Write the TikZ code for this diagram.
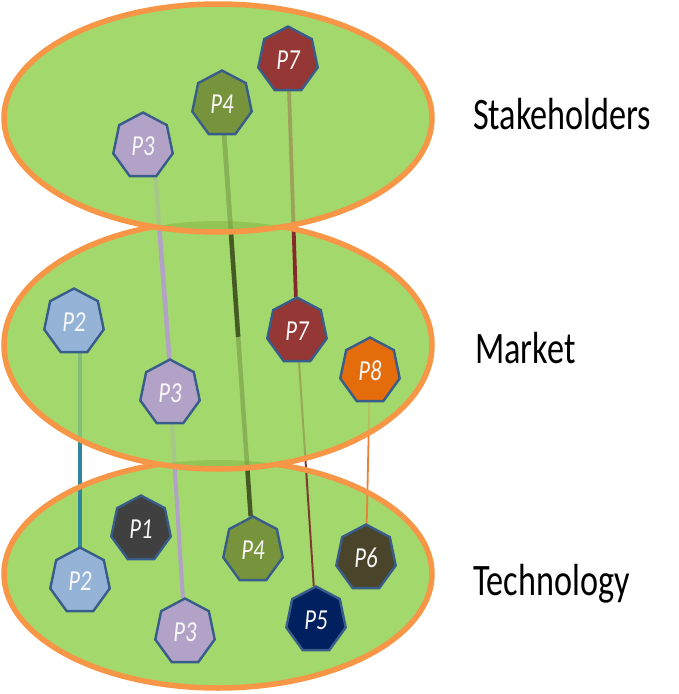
\documentclass[tikz,border=0pt]{standalone}
\usepackage{fontspec}
\setmainfont{Carlito}
\usetikzlibrary{shapes.geometric,calc}
\definecolor{egreen}{RGB}{163,216,108}
\definecolor{eorange}{RGB}{247,150,70}
\definecolor{lensc}{RGB}{115,160,45}
\definecolor{hbord}{RGB}{56,93,138}
\definecolor{cP1}{RGB}{64,64,64}
\definecolor{cP2}{RGB}{149,179,215}
\definecolor{cP3}{RGB}{179,162,199}
\definecolor{cP4}{RGB}{119,147,60}
\definecolor{cP5}{RGB}{0,32,96}
\definecolor{cP6}{RGB}{74,69,42}
\definecolor{cP7}{RGB}{149,55,53}
\definecolor{cP8}{RGB}{228,108,10}
\definecolor{lP2}{RGB}{49,133,156}
\definecolor{lP3}{RGB}{179,162,199}
\definecolor{lP4}{RGB}{70,90,35}
\definecolor{lP7}{RGB}{135,40,45}
\definecolor{lP5}{RGB}{125,60,45}
\definecolor{lP8}{RGB}{235,130,55}
\newcommand{\heptlab}[1]{{\fontsize{29}{33}\selectfont\itshape\scalebox{0.86}[1]{#1}}}
\newcommand{\layerlab}[1]{\scalebox{0.76}[1]{#1}}
\pgfdeclarelayer{lzero}
\pgfdeclarelayer{lone}
\pgfdeclarelayer{ltwo}
\pgfdeclarelayer{lthree}
\pgfdeclarelayer{lfour}
\pgfsetlayers{lzero,lone,ltwo,lthree,lfour,main}
\tikzset{
  hept/.style={regular polygon, regular polygon sides=7, minimum size=67pt,
    inner sep=0pt, xscale=0.91, draw=hbord, line width=2.4pt, text=white!94!gray},
  layerlabel/.style={anchor=base west, inner sep=0pt, text=black,
    font=\fontsize{45}{54}\selectfont},
  thickconn/.style={line width=4.5pt},
  thinconn/.style={line width=2pt},
  ellfill/.style={fill=egreen},
  ellveil/.style={fill=egreen, fill opacity=0.7},
  ellline/.style={draw=eorange, line width=5.5pt},
  lensfill/.style={fill=lensc, fill opacity=0.35},
}
\begin{document}
\begin{tikzpicture}[x=1pt,y=-1pt]
\useasboundingbox (0,0) rectangle (678,694);
% heptagon nodes
\node[hept, fill=cP3] (t3) at (143,146) {\heptlab{P3}};
\node[hept, fill=cP4] (t4) at (222,104) {\heptlab{P4}};
\node[hept, fill=cP7] (t7) at (288,60) {\heptlab{P7}};
\node[hept, fill=cP2] (m2) at (74,322) {\heptlab{P2}};
\node[hept, fill=cP3] (m3) at (170,393) {\heptlab{P3}};
\node[hept, fill=cP7] (m7) at (297,331) {\heptlab{P7}};
\node[hept, fill=cP8] (m8) at (370,371) {\heptlab{P8}};
\node[hept, fill=cP1] (b1) at (141,529) {\heptlab{P1}};
\node[hept, fill=cP2] (b2) at (80,581) {\heptlab{P2}};
\node[hept, fill=cP3] (b3) at (185,632) {\heptlab{P3}};
\node[hept, fill=cP4] (b4) at (253,550) {\heptlab{P4}};
\node[hept, fill=cP5] (b5) at (316,620) {\heptlab{P5}};
\node[hept, fill=cP6] (b6) at (366,558) {\heptlab{P6}};
% layer labels
\node[layerlabel] (lst) at (473,129) {\layerlab{Stakeholders}};
\node[layerlabel] (lmk) at (475,363) {\layerlab{Market}};
\node[layerlabel] (ltc) at (473,595) {\layerlab{Technology}};
\coordinate (p4mid) at ($(t4)!0.522!(b4)$);
% ellipse fills
\begin{pgfonlayer}{lzero}
  \path[ellfill] (218,574) ellipse [x radius=214pt, y radius=114pt];
  \path[ellfill] (218,345) ellipse [x radius=214pt, y radius=124pt];
  \path[ellfill] (218,118) ellipse [x radius=214pt, y radius=114pt];
\end{pgfonlayer}
% connectors from the market layer down
\begin{pgfonlayer}{lone}
  \draw[thickconn, lP2] ([xshift=6pt]m2.center) -- (b2.center);
  \draw[line width=4pt, lP3] (m3) -- (b3);
  \draw[thickconn, lP4] (t4) -- (b4);
  \draw[thinconn, lP5] (m7) -- (b5);
  \draw[line width=1.8pt, lP8] (m8) -- (b6);
\end{pgfonlayer}
\begin{pgfonlayer}{ltwo}
  \path[ellveil] (218,345) ellipse [x radius=214pt, y radius=124pt];
\end{pgfonlayer}
% connectors from the stakeholder layer down
\begin{pgfonlayer}{lthree}
  \draw[thickconn, lP3] ([xshift=10pt]t3.center) -- ([xshift=2pt]m3.center);
  \draw[thickconn, lP4] (t4) -- (p4mid);
  \draw[line width=3.8pt, lP7] (t7) -- (m7);
\end{pgfonlayer}
\begin{pgfonlayer}{lfour}
  \path[ellveil] (218,118) ellipse [x radius=214pt, y radius=114pt];
  \begin{scope}
    \clip (218,118) ellipse [x radius=214pt, y radius=114pt];
    \path[lensfill] (218,345) ellipse [x radius=214pt, y radius=124pt];
  \end{scope}
  \begin{scope}
    \clip (218,345) ellipse [x radius=214pt, y radius=124pt];
    \path[lensfill] (218,574) ellipse [x radius=214pt, y radius=114pt];
  \end{scope}
  \begin{scope}
    \clip (-10,464.3) rectangle (700,720);
    \path[ellline] (218,574) ellipse [x radius=214pt, y radius=114pt];
  \end{scope}
  \begin{scope}
    \clip (-10,226.7) rectangle (700,720);
    \path[ellline] (218,345) ellipse [x radius=214pt, y radius=124pt];
  \end{scope}
  \path[ellline] (218,118) ellipse [x radius=214pt, y radius=114pt];
\end{pgfonlayer}
\end{tikzpicture}
\end{document}
